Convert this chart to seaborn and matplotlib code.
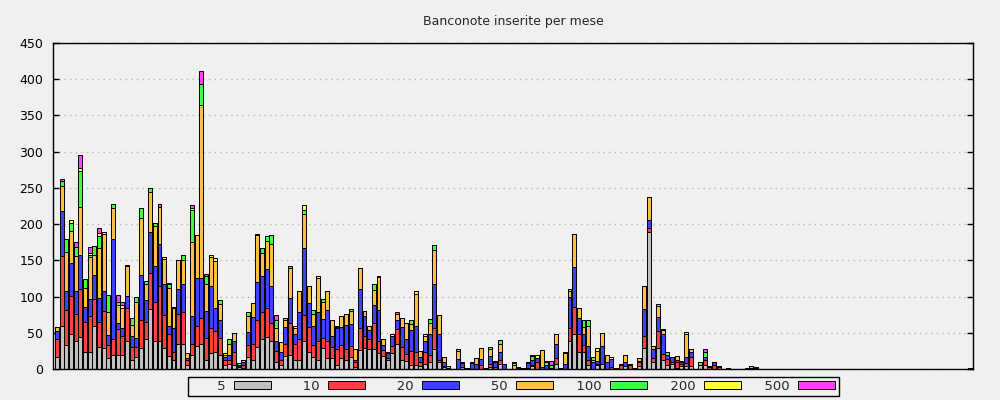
import numpy as np
import pandas as pd
import matplotlib.pyplot as plt
from matplotlib.patches import Patch
import seaborn as sns

# tagli delle banconote e colori della legenda
tagli = ["5", "10", "20", "50", "100", "200", "500"]
colori = ["#c0c0c0", "#ff4040", "#4040ff", "#ffc040", "#40ff40", "#ffff40", "#ff40ff"]

# pezzi inseriti per mese, uno per taglio (197 mesi)
n5 = [16, 59, 33, 49, 39, 44, 24, 23, 59, 30, 29, 15, 20, 20, 19, 38, 13, 16, 29, 41,
      83, 38, 39, 29, 18, 12, 35, 34, 5, 19, 32, 35, 13, 22, 23, 19, 6, 7, 6, 3,
      2, 16, 13, 30, 41, 44, 38, 9, 6, 18, 20, 12, 12, 39, 23, 16, 12, 29, 15, 15,
      6, 15, 12, 16, 3, 26, 29, 27, 27, 22, 18, 13, 22, 35, 12, 11, 6, 6, 4, 7,
      9, 27, 9, 3, 1, 0, 0, 3, 1, 0, 0, 0, 0, 3, 0, 7, 0, 0, 0, 2,
      0, 2, 4, 0, 0, 0, 1, 7, 2, 0, 39, 48, 23, 23, 6, 0, 6, 7, 0, 0,
      2, 0, 4, 0, 1, 4, 29, 189, 9, 29, 12, 6, 7, 2, 4, 4, 4, 0, 5, 6,
      0, 0, 0, 0, 2, 0, 0, 0, 1, 1, 2, 0, 0, 0, 0, 0, 0, 0, 0, 0,
      0, 0, 0, 0, 0, 0, 0, 0, 0, 0, 0, 0, 0, 0, 0, 0, 0, 0, 0, 0,
      0, 0, 0, 0, 0, 0, 0, 0, 0, 0, 0, 0, 0, 0, 0, 0, 2]
n10 = [25, 97, 49, 52, 37, 67, 41, 50, 38, 35, 51, 18, 21, 35, 26, 46, 17, 14, 39, 24,
       49, 54, 75, 46, 30, 11, 41, 44, 8, 16, 28, 35, 30, 35, 29, 24, 7, 6, 17, 1,
       3, 17, 21, 38, 37, 40, 25, 16, 6, 17, 43, 22, 29, 35, 35, 17, 26, 14, 23, 15,
       22, 18, 15, 16, 7, 30, 17, 14, 36, 16, 8, 2, 10, 20, 19, 10, 19, 17, 6, 16,
       11, 29, 4, 1, 0, 0, 0, 0, 0, 0, 0, 6, 1, 4, 3, 6, 0, 0, 0, 0,
       0, 0, 1, 9, 0, 0, 0, 8, 0, 0, 18, 38, 25, 10, 7, 0, 1, 0, 0, 3,
       0, 5, 0, 5, 0, 5, 16, 6, 6, 23, 9, 8, 3, 8, 3, 4, 13, 0, 0, 6,
       3, 5, 3, 0, 0, 0, 0, 0, 0, 0, 0, 0, 0, 0, 0, 0, 0, 0, 0, 0,
       0, 0, 0, 0, 0, 0, 0, 0, 0, 0, 0, 0, 0, 0, 0, 0, 0, 0, 0, 0,
       0, 0, 0, 0, 0, 0, 0, 0, 0, 0, 0, 0, 0, 0, 0, 0, 0]
n20 = [11, 62, 26, 45, 32, 46, 21, 23, 33, 33, 28, 14, 138, 8, 11, 17, 15, 13, 62, 30,
       57, 50, 58, 43, 12, 33, 35, 40, 2, 38, 65, 55, 37, 58, 32, 24, 4, 7, 16, 1,
       4, 18, 38, 52, 50, 54, 52, 13, 11, 23, 35, 15, 37, 93, 33, 26, 41, 26, 44, 16,
       28, 25, 34, 30, 3, 55, 27, 13, 26, 44, 7, 7, 13, 13, 27, 20, 29, 36, 6, 15,
       28, 61, 35, 5, 0, 0, 14, 5, 0, 8, 7, 8, 0, 11, 7, 11, 7, 0, 0, 0,
       0, 6, 8, 6, 3, 5, 0, 19, 0, 7, 42, 55, 22, 16, 19, 9, 4, 25, 9, 11,
       0, 0, 5, 0, 0, 2, 38, 11, 12, 20, 27, 5, 6, 2, 3, 9, 6, 0, 0, 5,
       0, 4, 0, 0, 0, 0, 0, 0, 0, 0, 0, 0, 0, 0, 0, 0, 0, 0, 0, 0,
       0, 0, 0, 0, 0, 0, 0, 0, 0, 0, 0, 0, 0, 0, 0, 0, 0, 0, 0, 0,
       0, 0, 0, 0, 0, 0, 0, 0, 0, 0, 0, 0, 0, 0, 0, 0, 0]
n50 = [6, 35, 53, 44, 48, 66, 26, 58, 28, 69, 79, 32, 43, 26, 28, 41, 16, 50, 79, 22,
       55, 55, 52, 34, 52, 28, 40, 33, 7, 102, 60, 240, 37, 40, 65, 23, 3, 15, 11, 0,
       3, 22, 19, 65, 32, 39, 58, 18, 14, 10, 41, 8, 29, 47, 24, 17, 46, 23, 25, 22,
       2, 15, 15, 18, 14, 29, 7, 6, 20, 45, 8, 0, 0, 8, 12, 22, 8, 45, 9, 8,
       16, 47, 27, 8, 0, 0, 11, 0, 0, 0, 8, 15, 0, 10, 0, 11, 0, 0, 5, 0,
       1, 2, 0, 0, 23, 0, 0, 14, 0, 15, 9, 46, 14, 9, 27, 3, 14, 18, 10, 0,
       0, 0, 10, 0, 0, 4, 32, 32, 5, 15, 6, 0, 0, 6, 0, 32, 5, 0, 0, 0,
       0, 0, 0, 0, 0, 0, 0, 0, 0, 3, 0, 0, 0, 0, 0, 0, 0, 0, 0, 0,
       0, 0, 0, 0, 0, 0, 0, 0, 0, 0, 0, 0, 0, 0, 0, 0, 0, 0, 0, 0,
       0, 0, 0, 0, 0, 0, 0, 0, 0, 0, 0, 0, 0, 0, 0, 0, 0]
n100 = [0, 7, 19, 12, 13, 50, 12, 3, 12, 16, 0, 23, 6, 3, 0, 0, 10, 7, 13, 5,
        6, 5, 0, 0, 6, 0, 0, 6, 0, 44, 0, 28, 12, 0, 0, 5, 0, 6, 0, 3,
        0, 5, 0, 0, 7, 6, 12, 12, 0, 3, 3, 0, 0, 6, 0, 6, 0, 5, 0, 0,
        0, 0, 0, 3, 0, 0, 0, 0, 8, 0, 0, 0, 0, 0, 0, 0, 5, 0, 0, 0,
        5, 7, 0, 0, 3, 0, 2, 0, 0, 0, 0, 0, 0, 3, 0, 5, 0, 0, 3, 0,
        0, 0, 5, 0, 0, 5, 5, 0, 0, 0, 2, 0, 0, 9, 9, 4, 0, 0, 0, 0,
        0, 0, 0, 0, 0, 0, 0, 0, 0, 3, 0, 5, 0, 0, 0, 0, 0, 0, 5, 7,
        0, 0, 0, 0, 0, 0, 0, 0, 0, 0, 0, 0, 0, 0, 0, 0, 0, 0, 0, 0,
        0, 0, 0, 0, 0, 0, 0, 0, 0, 0, 0, 0, 0, 0, 0, 0, 0, 0, 0, 0,
        0, 0, 0, 0, 0, 0, 0, 0, 0, 0, 0, 0, 0, 0, 0, 0, 0]
n200 = [0, 0, 0, 3, 0, 4, 0, 3, 0, 5, 2, 0, 0, 0, 5, 1, 0, 0, 0, 0,
        0, 0, 0, 2, 0, 2, 0, 0, 0, 3, 0, 0, 0, 3, 4, 0, 2, 0, 0, 0,
        0, 0, 0, 2, 0, 0, 0, 0, 0, 0, 0, 3, 0, 6, 0, 0, 3, 0, 0, 0,
        1, 0, 0, 0, 0, 0, 0, 0, 0, 1, 0, 1, 3, 0, 0, 0, 0, 3, 0, 2,
        0, 0, 0, 0, 0, 0, 0, 2, 0, 1, 0, 0, 0, 0, 1, 0, 0, 0, 1, 1,
        0, 0, 1, 4, 0, 1, 0, 0, 0, 1, 0, 0, 0, 0, 0, 0, 4, 0, 0, 2,
        0, 2, 0, 2, 0, 0, 0, 0, 0, 0, 1, 0, 1, 0, 1, 2, 0, 0, 0, 0,
        1, 0, 1, 0, 0, 0, 0, 0, 0, 0, 0, 0, 0, 0, 0, 0, 0, 0, 0, 0,
        0, 0, 0, 0, 0, 0, 0, 0, 0, 0, 0, 0, 0, 0, 0, 0, 0, 0, 0, 0,
        0, 0, 0, 0, 0, 0, 0, 0, 0, 0, 0, 0, 0, 0, 0, 0, 0]
n500 = [0, 2, 0, 0, 6, 19, 0, 8, 0, 6, 0, 0, 0, 10, 3, 0, 0, 0, 0, 0,
        0, 0, 4, 0, 1, 0, 0, 0, 0, 4, 0, 18, 2, 0, 0, 0, 0, 0, 0, 0,
        0, 0, 0, 0, 0, 0, 0, 6, 0, 0, 0, 0, 0, 0, 0, 0, 0, 0, 0, 0,
        0, 0, 0, 0, 0, 0, 0, 0, 0, 0, 0, 0, 0, 3, 0, 0, 0, 0, 0, 0,
        0, 0, 0, 0, 0, 0, 0, 0, 0, 0, 0, 0, 0, 0, 0, 0, 0, 0, 0, 0,
        0, 0, 0, 0, 0, 0, 5, 0, 0, 0, 0, 0, 0, 0, 0, 0, 0, 0, 0, 0,
        0, 0, 0, 0, 0, 0, 0, 0, 0, 0, 0, 0, 0, 0, 0, 0, 0, 0, 0, 4,
        0, 0, 0, 0, 0, 0, 0, 0, 0, 0, 1, 0, 0, 0, 0, 0, 0, 0, 0, 0,
        0, 0, 0, 0, 0, 0, 0, 0, 0, 0, 0, 0, 0, 0, 0, 0, 0, 0, 0, 0,
        0, 0, 0, 0, 0, 0, 0, 0, 0, 0, 0, 0, 0, 0, 0, 0, 0]

serie = dict(zip(tagli, [n5, n10, n20, n50, n100, n200, n500]))
for t, v in serie.items():
    assert len(v) == 197, (t, len(v))

# formato lungo per seaborn
mesi = np.arange(len(n5))
df = pd.concat(
    [pd.DataFrame({"mese": mesi, "taglio": t, "pezzi": v}) for t, v in serie.items()],
    ignore_index=True,
)

sns.set_theme(style="ticks")
plt.rcParams["font.family"] = ["DejaVu Sans"]
bg = "#f0f0f0"

fig, ax = plt.subplots(figsize=(10, 4), dpi=100)
fig.patch.set_facecolor(bg)
ax.set_facecolor(bg)
fig.subplots_adjust(left=0.053, right=0.973, bottom=0.0775, top=0.8925)

sns.histplot(
    data=df, x="mese", weights="pezzi", hue="taglio",
    hue_order=tagli[::-1], palette=dict(zip(tagli, colori)),
    multiple="stack", discrete=True, shrink=0.85,
    edgecolor="black", linewidth=0.7, alpha=1,
    legend=False, ax=ax,
)

ax.set_xlim(-0.86, 196.6)
ax.set_ylim(0, 450)
ax.set_yticks(np.arange(0, 451, 50))
ax.set_xticks([])
ax.set_xlabel("")
ax.set_ylabel("")
ax.set_axisbelow(True)
ax.yaxis.grid(True, linestyle=(0, (1, 3)), color="#b4b4b4", linewidth=1)
ax.tick_params(axis="y", direction="in", length=4, width=1, left=True,
               right=True, labelsize=9, pad=7, colors="black")
for s in ax.spines.values():
    s.set_visible(True)
    s.set_color("black")
    s.set_linewidth(1)

ax.set_title("Banconote inserite per mese", fontsize=9, pad=13)

# etichette allineate a destra, celle di larghezza fissa (figure space)
etichette = [t.rjust(4, "\u2007") for t in tagli]
handles = [Patch(facecolor=c, edgecolor="black", linewidth=0.7) for c in colori]
leg = fig.legend(
    handles, etichette, loc="center", bbox_to_anchor=(0.5135, 0.034), ncol=7,
    markerfirst=False, frameon=True, fancybox=False, edgecolor="black",
    facecolor=bg, framealpha=1, fontsize=9.5, handlelength=2.8,
    handleheight=0.6, handletextpad=0.68, columnspacing=1.1, borderpad=0.25,
)
leg.get_frame().set_linewidth(1)

plt.savefig("out.png", dpi=100, facecolor=bg)
